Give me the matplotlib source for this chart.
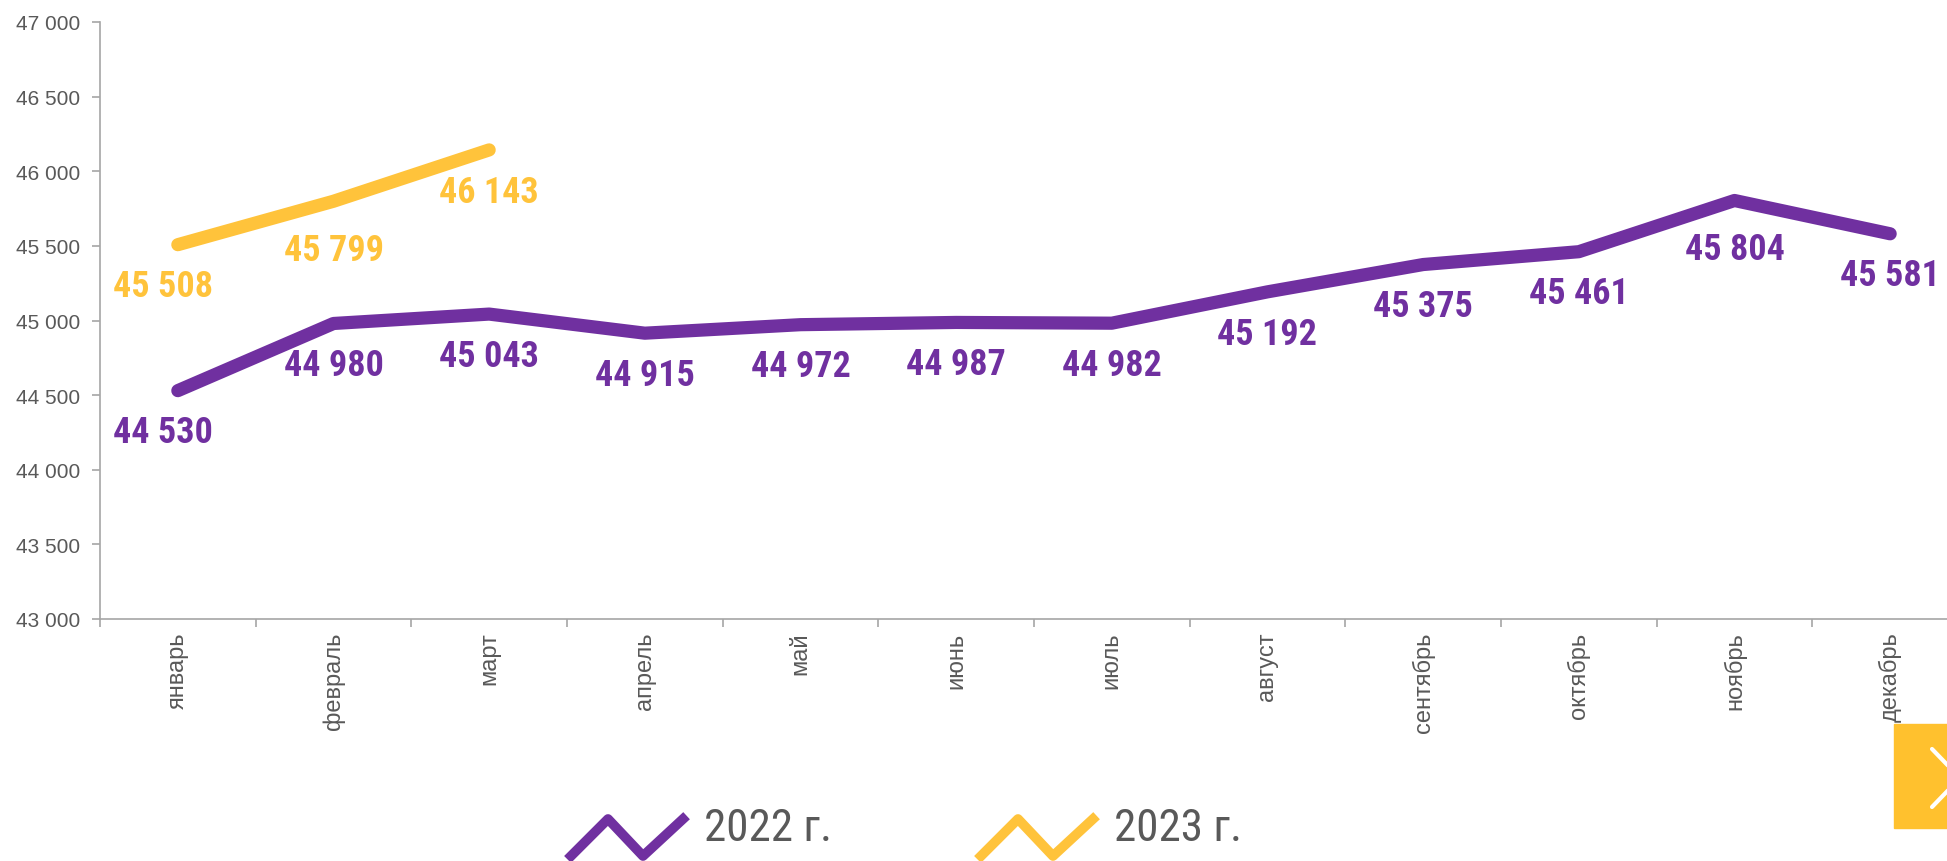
import matplotlib
matplotlib.use("Agg")
import matplotlib.pyplot as plt
from matplotlib import font_manager
from matplotlib.lines import Line2D
from matplotlib.patches import Rectangle

months = ["январь", "февраль", "март", "апрель", "май", "июнь",
          "июль", "август", "сентябрь", "октябрь", "ноябрь", "декабрь"]
values_2022 = [44530, 44980, 45043, 44915, 44972, 44987,
               44982, 45192, 45375, 45461, 45804, 45581]
values_2023 = [45508, 45799, 46143]
yticks = [43000, 43500, 44000, 44500, 45000, 45500, 46000, 46500, 47000]
series_names = ["2022 г.", "2023 г."]

PURPLE = "#7030A0"
YELLOW = "#FFC33B"
GRAY = "#595959"

names = {f.name for f in font_manager.fontManager.ttflist}
narrow = "Liberation Sans"
for cand in ["Liberation Sans Narrow", "Arial Narrow", "Roboto Condensed",
             "PT Sans Narrow", "Archivo Narrow", "Open Sans Condensed"]:
    if cand in names:
        narrow = cand
        break
plt.rcParams["font.family"] = ["Liberation Sans", "DejaVu Sans"]
NARROW = [narrow, "Liberation Sans", "DejaVu Sans"]


def fmt(v):
    return f"{v:,}".replace(",", " ")


W, H = 1947, 862
fig = plt.figure(figsize=(W / 100, H / 100), dpi=100)
ax = fig.add_axes([100 / W, (H - 620) / H, 1868 / W, 597 / H])

x22 = list(range(len(values_2022)))
x23 = list(range(len(values_2023)))
ax.plot(x22, values_2022, color=PURPLE, lw=9.5, solid_capstyle="round", solid_joinstyle="round")
ax.plot(x23, values_2023, color=YELLOW, lw=9.5, solid_capstyle="round", solid_joinstyle="round")

# labels below the points
extra = {(0, 10): 5, (1, 1): 5}
for k, (xs, vals, col) in enumerate([(x22, values_2022, PURPLE), (x23, values_2023, YELLOW)]):
    for i, v in zip(xs, vals):
        dx = -11 if i == 0 else 0
        dy = -30 - extra.get((k, i), 0)
        ax.annotate(fmt(v), (i, v), xytext=(dx, dy), textcoords="offset points",
                    ha="center", va="center", color=col, fontsize=26,
                    fontweight="bold", family=NARROW)

ax.set_xlim(-0.5, 11.5)
ax.set_ylim(43000, 47000)
ax.set_yticks(yticks)
ax.set_yticklabels([fmt(t) for t in yticks])
ax.set_xticks(x22)
ax.set_xticklabels(months, rotation=90)
ax.set_xticks([i - 0.5 for i in range(13)], minor=True)
ax.tick_params(axis="x", which="major", length=0, pad=9, labelsize=17, labelcolor=GRAY)
ax.tick_params(axis="x", which="minor", length=6, width=1.2, color="#A6A6A6")
ax.tick_params(axis="y", length=6, width=1.2, color="#A6A6A6", labelsize=15,
               labelcolor=GRAY, pad=8)

for s in ["top", "right"]:
    ax.spines[s].set_visible(False)
for s in ["left", "bottom"]:
    ax.spines[s].set_color("#A6A6A6")
    ax.spines[s].set_linewidth(1.2)

# legend with zigzag icons
for x0, col, name in [(571, PURPLE, series_names[0]), (981, YELLOW, series_names[1])]:
    zx = [x0, x0 + 37, x0 + 72, x0 + 112]
    zy = [857, 820, 857, 820]
    fig.add_artist(Line2D([p / W for p in zx], [1 - p / H for p in zy],
                          transform=fig.transFigure, color=col, lw=7))
    fig.text((x0 + 133) / W, 1 - 829 / H, name, color=GRAY, fontsize=32.5,
             ha="left", va="center", family=NARROW)

# yellow nav button at the corner
fig.add_artist(Rectangle((1894 / W, 1 - 829 / H), 60 / W, 104 / H,
                         transform=fig.transFigure, color="#FFC12E"))
fig.add_artist(Line2D([1932 / W, 1960 / W, 1932 / W],
                      [1 - 750 / H, 1 - 779 / H, 1 - 808 / H],
                      transform=fig.transFigure, color="white", lw=3,
                      solid_capstyle="round"))

fig.savefig("out.png", dpi=100)
